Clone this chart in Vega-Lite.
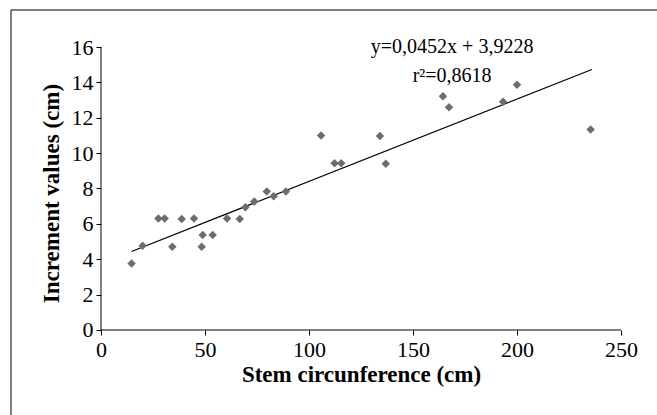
{
  "$schema": "https://vega.github.io/schema/vega-lite/v6.json",
  "width": 646,
  "height": 405,
  "autosize": {"type": "none"},
  "padding": {"left": 11, "top": 10, "right": 0, "bottom": 0},
  "background": "white",
  "config": {
    "view": {"stroke": null},
    "font": "Liberation Serif",
    "axis": {"grid": false, "domain": false, "tickColor": "black", "tickSize": 5, "labelColor": "black", "labelFont": "Liberation Serif", "labelFontSize": 22, "titleFont": "Liberation Serif", "titleFontSize": 23, "titleFontWeight": "bold", "titleColor": "black"}
  },
  "datasets": {
    "points": [
      {"x": 14.7, "y": 3.76}, {"x": 20.0, "y": 4.76}, {"x": 27.6, "y": 6.31}, {"x": 30.6, "y": 6.31},
      {"x": 34.3, "y": 4.71}, {"x": 38.8, "y": 6.27}, {"x": 44.7, "y": 6.31}, {"x": 48.9, "y": 5.37},
      {"x": 48.4, "y": 4.71}, {"x": 53.7, "y": 5.37}, {"x": 60.6, "y": 6.31}, {"x": 66.7, "y": 6.27},
      {"x": 69.4, "y": 6.94}, {"x": 73.7, "y": 7.26}, {"x": 79.7, "y": 7.83}, {"x": 83.0, "y": 7.56},
      {"x": 88.9, "y": 7.83}, {"x": 105.8, "y": 11.0}, {"x": 112.3, "y": 9.43}, {"x": 115.5, "y": 9.43},
      {"x": 134.1, "y": 10.97}, {"x": 136.9, "y": 9.4}, {"x": 164.4, "y": 13.22}, {"x": 167.3, "y": 12.59},
      {"x": 193.3, "y": 12.91}, {"x": 200.0, "y": 13.86}, {"x": 235.4, "y": 11.34}
    ],
    "fit": [{"x": 14.7, "y": 4.44}, {"x": 236.0, "y": 14.73}],
    "axes": [
      {"x": 0, "y": 0, "x2": 250, "y2": 0},
      {"x": 0, "y": 0, "x2": 0, "y2": 16},
      {"x": -43.269, "y": -4.806, "x2": -43.269, "y2": 18.092},
      {"x": -43.269, "y": 18.092, "x2": 267.308, "y2": 18.092}
    ],
    "labels": [
      {"x": 168.8, "y": 15.68, "text": "y=0,0452x + 3,9228"},
      {"x": 168.8, "y": 14.02, "text": "r²=0,8618"}
    ]
  },
  "encoding": {
    "x": {"field": "x", "type": "quantitative", "scale": {"domain": [-43.269, 267.308], "nice": false, "zero": false}, "axis": {"values": [0, 50, 100, 150, 200, 250], "offset": -85, "title": "Stem circunference (cm)", "titlePadding": 3, "titleX": 350, "labelPadding": 4, "labelFont": "Liberation Serif", "labelFontSize": 22, "titleFont": "Liberation Serif", "titleFontSize": 23}},
    "y": {"field": "y", "type": "quantitative", "scale": {"domain": [-4.806, 18.092], "nice": false, "zero": false}, "axis": {"values": [0, 2, 4, 6, 8, 10, 12, 14, 16], "offset": -90, "title": "Increment values (cm)", "titlePadding": 8, "titleY": 183, "labelPadding": 3, "labelFont": "Liberation Serif", "labelFontSize": 22, "titleFont": "Liberation Serif", "titleFontSize": 23}}
  },
  "layer": [
    {
      "data": {"name": "axes"},
      "mark": {"type": "rule", "color": "black", "strokeWidth": 1},
      "encoding": {
        "x2": {"field": "x2"},
        "y2": {"field": "y2"}
      }
    },
    {
      "data": {"name": "fit"},
      "mark": {"type": "line", "color": "black", "strokeWidth": 1.2},
      "encoding": {}
    },
    {
      "data": {"name": "points"},
      "mark": {"type": "point", "shape": "diamond", "filled": true, "color": "#6d6d6d", "size": 72, "opacity": 1},
      "encoding": {}
    },
    {
      "data": {"name": "labels"},
      "mark": {"type": "text", "font": "Liberation Serif", "fontSize": 20, "color": "black", "align": "center", "baseline": "alphabetic"},
      "encoding": {
        "text": {"field": "text"}
      }
    }
  ]
}
